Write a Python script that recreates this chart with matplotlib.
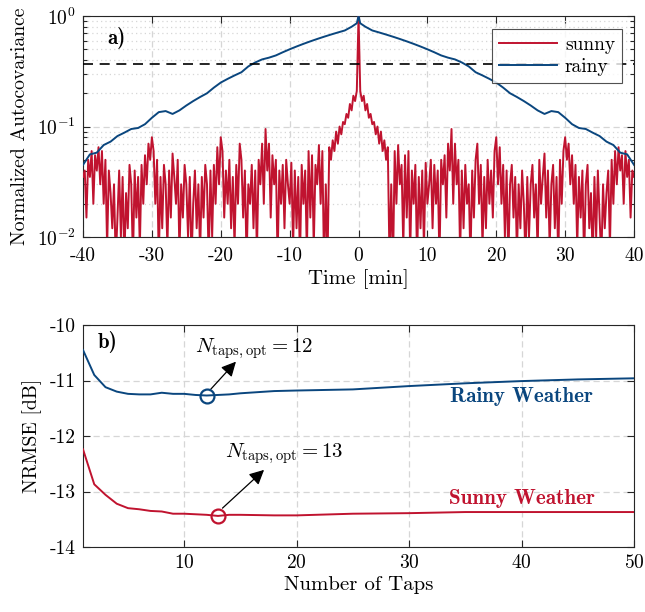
"""Autocovariance (a) and NRMSE vs. number of taps (b)."""

import numpy as np
import matplotlib

matplotlib.use("Agg")
import matplotlib.pyplot as plt
from matplotlib.ticker import FixedLocator, LogLocator, NullFormatter

plt.rcParams["font.family"] = "serif"
plt.rcParams["font.serif"] = ["cmr10"]
plt.rcParams["mathtext.fontset"] = "cm"
plt.rcParams["axes.unicode_minus"] = False
plt.rcParams["axes.formatter.use_mathtext"] = True

RED = "#c0132f"
BLUE = "#0a467e"
GRID = "#d6d6d6"

# --- panel a: one side of the (symmetric) autocovariance, lag step 0.25 min ---
lag_step = 0.25
sunny_half = [
    0.21, 0.17, 0.19, 0.14, 0.16, 0.12, 0.13, 0.105,
    0.11, 0.085, 0.10, 0.07, 0.09, 0.06, 0.075, 0.05,
    0.065, 0.006, 0.03, 0.005, 0.06, 0.02, 0.068, 0.03,
    0.045, 0.008, 0.055, 0.015, 0.06, 0.007, 0.04, 0.02,
    0.045, 0.006, 0.035, 0.012, 0.04, 0.008, 0.047, 0.02,
    0.03, 0.05, 0.012, 0.045, 0.02, 0.04, 0.006, 0.05,
    0.03, 0.055, 0.015, 0.07, 0.04, 0.095, 0.02, 0.07,
    0.03, 0.05, 0.007, 0.04, 0.012, 0.045, 0.02, 0.03,
    0.006, 0.04, 0.015, 0.05, 0.07, 0.02, 0.045, 0.008,
    0.035, 0.012, 0.05, 0.02, 0.04, 0.015, 0.06, 0.08,
    0.03, 0.065, 0.02, 0.045, 0.01, 0.04, 0.006, 0.03,
    0.045, 0.015, 0.035, 0.007, 0.03, 0.012, 0.04, 0.02,
    0.006, 0.035, 0.01, 0.03, 0.045, 0.015, 0.03, 0.007,
    0.05, 0.02, 0.035, 0.057, 0.015, 0.04, 0.008, 0.03,
    0.045, 0.012, 0.035, 0.006, 0.05, 0.02, 0.06, 0.08,
    0.05, 0.07, 0.03, 0.055, 0.02, 0.045, 0.008, 0.035,
    0.015, 0.04, 0.006, 0.03, 0.045, 0.012, 0.025, 0.006,
    0.035, 0.01, 0.04, 0.015, 0.006, 0.03, 0.012, 0.025,
    0.04, 0.008, 0.05, 0.02, 0.06, 0.03, 0.065, 0.04,
    0.055, 0.02, 0.06, 0.035, 0.05, 0.015, 0.04, 0.035,
]
rainy_lag_half = [0.25, 1, 2, 3, 4, 5, 6, 7, 8, 9, 10, 11, 12, 13, 14, 15,
                  16, 17, 18, 19, 20, 21, 22, 23, 24, 25, 26, 27, 28, 29, 30,
                  31, 32, 33, 34, 35, 36, 37, 38, 39, 40]
rainy_half = [0.86, 0.80, 0.74, 0.71, 0.68, 0.65, 0.62, 0.59, 0.56, 0.53, 0.50,
              0.47, 0.44, 0.42, 0.405, 0.38, 0.35, 0.31, 0.29, 0.27, 0.25,
              0.225, 0.20, 0.185, 0.17, 0.155, 0.14, 0.13, 0.138, 0.135, 0.12,
              0.105, 0.097, 0.095, 0.088, 0.082, 0.073, 0.068, 0.058, 0.056,
              0.045]
peak = 1.0
threshold = np.exp(-1)

# --- panel b ---
taps = [1, 2, 3, 4, 5, 6, 7, 8, 9, 10, 11, 12, 13, 14, 15, 18, 20, 25, 30,
        35, 40, 45, 50]
nrmse_rainy = [-10.45, -10.9, -11.12, -11.2, -11.24, -11.25, -11.25, -11.22,
               -11.24, -11.24, -11.26, -11.27, -11.26, -11.25, -11.23, -11.19,
               -11.18, -11.16, -11.10, -11.05, -11.01, -10.98, -10.96]
nrmse_sunny = [-12.24, -12.87, -13.06, -13.22, -13.30, -13.32, -13.35, -13.36,
               -13.40, -13.40, -13.41, -13.42, -13.44, -13.42, -13.42, -13.43,
               -13.43, -13.40, -13.39, -13.37, -13.37, -13.37, -13.37]
opt_rainy = 12
opt_sunny = 13


def mirror(lags, vals, centre):
    lags = np.asarray(lags, dtype=float)
    vals = np.asarray(vals, dtype=float)
    x = np.concatenate([-lags[::-1], [0.0], lags])
    y = np.concatenate([vals[::-1], [centre], vals])
    return x, y


def style_axes(ax):
    ax.tick_params(which="both", direction="in", top=True, right=True,
                   labelsize=14, length=5, width=0.8, color="#262626", pad=5)
    ax.tick_params(which="minor", length=3)
    for s in ax.spines.values():
        s.set_linewidth(0.8)
        s.set_color("#262626")


fig = plt.figure(figsize=(6.45, 6.12), dpi=100)

# ---------------- a) ----------------
ax1 = fig.add_axes([0.1287, 0.6127, 0.8543, 0.3611])
sunny_lags = lag_step * np.arange(1, len(sunny_half) + 1)
xs, ys = mirror(sunny_lags, sunny_half, peak)
xr, yr = mirror(rainy_lag_half, rainy_half, peak)
ax1.plot(xs, ys, color=RED, lw=1.4, label="sunny", zorder=3)
ax1.plot(xr, yr, color=BLUE, lw=1.4, label="rainy", zorder=4)
ax1.axhline(threshold, color="k", lw=1.2, ls=(0, (6, 4)), zorder=5)
ax1.set_yscale("log")
ax1.set_xlim(-40, 40)
ax1.set_ylim(1e-2, 1)
ax1.set_xticks(np.arange(-40, 41, 10))
ax1.set_xticklabels([f"{v:d}" for v in range(-40, 41, 10)])
ax1.yaxis.set_minor_locator(LogLocator(base=10, subs=np.arange(2, 10)))
ax1.yaxis.set_minor_formatter(NullFormatter())
ax1.grid(True, which="major", color=GRID, ls=(0, (5, 3)), lw=0.9)
ax1.grid(True, which="minor", axis="y", color=GRID, ls=(0, (1, 2.5)), lw=0.9)
ax1.set_axisbelow(True)
style_axes(ax1)
ax1.tick_params(axis="x", pad=7)
ax1.set_xlabel("Time [min]", fontsize=15, labelpad=3)
ax1.set_ylabel("Normalized Autocovariance", fontsize=14.2, labelpad=6)
ax1.text(-36.5, 0.63, "a)", family="cmb10", fontsize=15, va="center")
leg = ax1.legend(loc="upper right", bbox_to_anchor=(0.978, 0.94), fontsize=14,
                 frameon=True, fancybox=False, edgecolor="#262626",
                 handlelength=3.0, borderpad=0.35, labelspacing=0.2,
                 handletextpad=0.4, borderaxespad=0)
leg.get_frame().set_linewidth(0.8)
leg.set_zorder(10)

# ---------------- b) ----------------
ax2 = fig.add_axes([0.1287, 0.1062, 0.8543, 0.3627])
ax2.plot(taps, nrmse_rainy, color=BLUE, lw=1.4, zorder=3)
ax2.plot(taps, nrmse_sunny, color=RED, lw=1.4, zorder=3)
ax2.plot([opt_rainy], [nrmse_rainy[taps.index(opt_rainy)]], "o", mfc="none",
         mec=BLUE, mew=1.6, ms=10, zorder=4)
ax2.plot([opt_sunny], [nrmse_sunny[taps.index(opt_sunny)]], "o", mfc="none",
         mec=RED, mew=1.6, ms=10, zorder=4)
ax2.set_xlim(1, 50)
ax2.set_ylim(-14, -10)
ax2.xaxis.set_major_locator(FixedLocator([10, 20, 30, 40, 50]))
ax2.set_yticks([-10, -11, -12, -13, -14])
ax2.set_yticklabels(["-10", "-11", "-12", "-13", "-14"])
ax2.grid(True, color=GRID, ls=(0, (5, 3)), lw=0.9)
ax2.set_axisbelow(True)
style_axes(ax2)
ax2.set_xlabel("Number of Taps", fontsize=15, labelpad=3)
ax2.set_ylabel("NRMSE [dB]", fontsize=14.2, labelpad=6)
ax2.text(2.3, -10.3, "b)", family="cmb10", fontsize=15, va="center")

arrow = dict(arrowstyle="-|>", color="k", lw=0.9, mutation_scale=22,
             shrinkA=0, shrinkB=0)
ax2.annotate("", xy=(14.6, -10.66), xytext=(12.3, -11.17), arrowprops=arrow)
ax2.annotate("", xy=(17.1, -12.61), xytext=(13.4, -13.30), arrowprops=arrow)
ax2.text(11.0, -10.42, r"$N_{\mathrm{taps,opt}} = 12$", fontsize=15, va="center")
ax2.text(13.6, -12.31, r"$N_{\mathrm{taps,opt}} = 13$", fontsize=15, va="center")
ax2.text(40, -11.28, "Rainy Weather", family="cmb10", fontsize=15.2,
         color=BLUE, ha="center", va="center")
ax2.text(40, -13.12, "Sunny Weather", family="cmb10", fontsize=15.2,
         color=RED, ha="center", va="center")

fig.savefig("out.png", dpi=100)
